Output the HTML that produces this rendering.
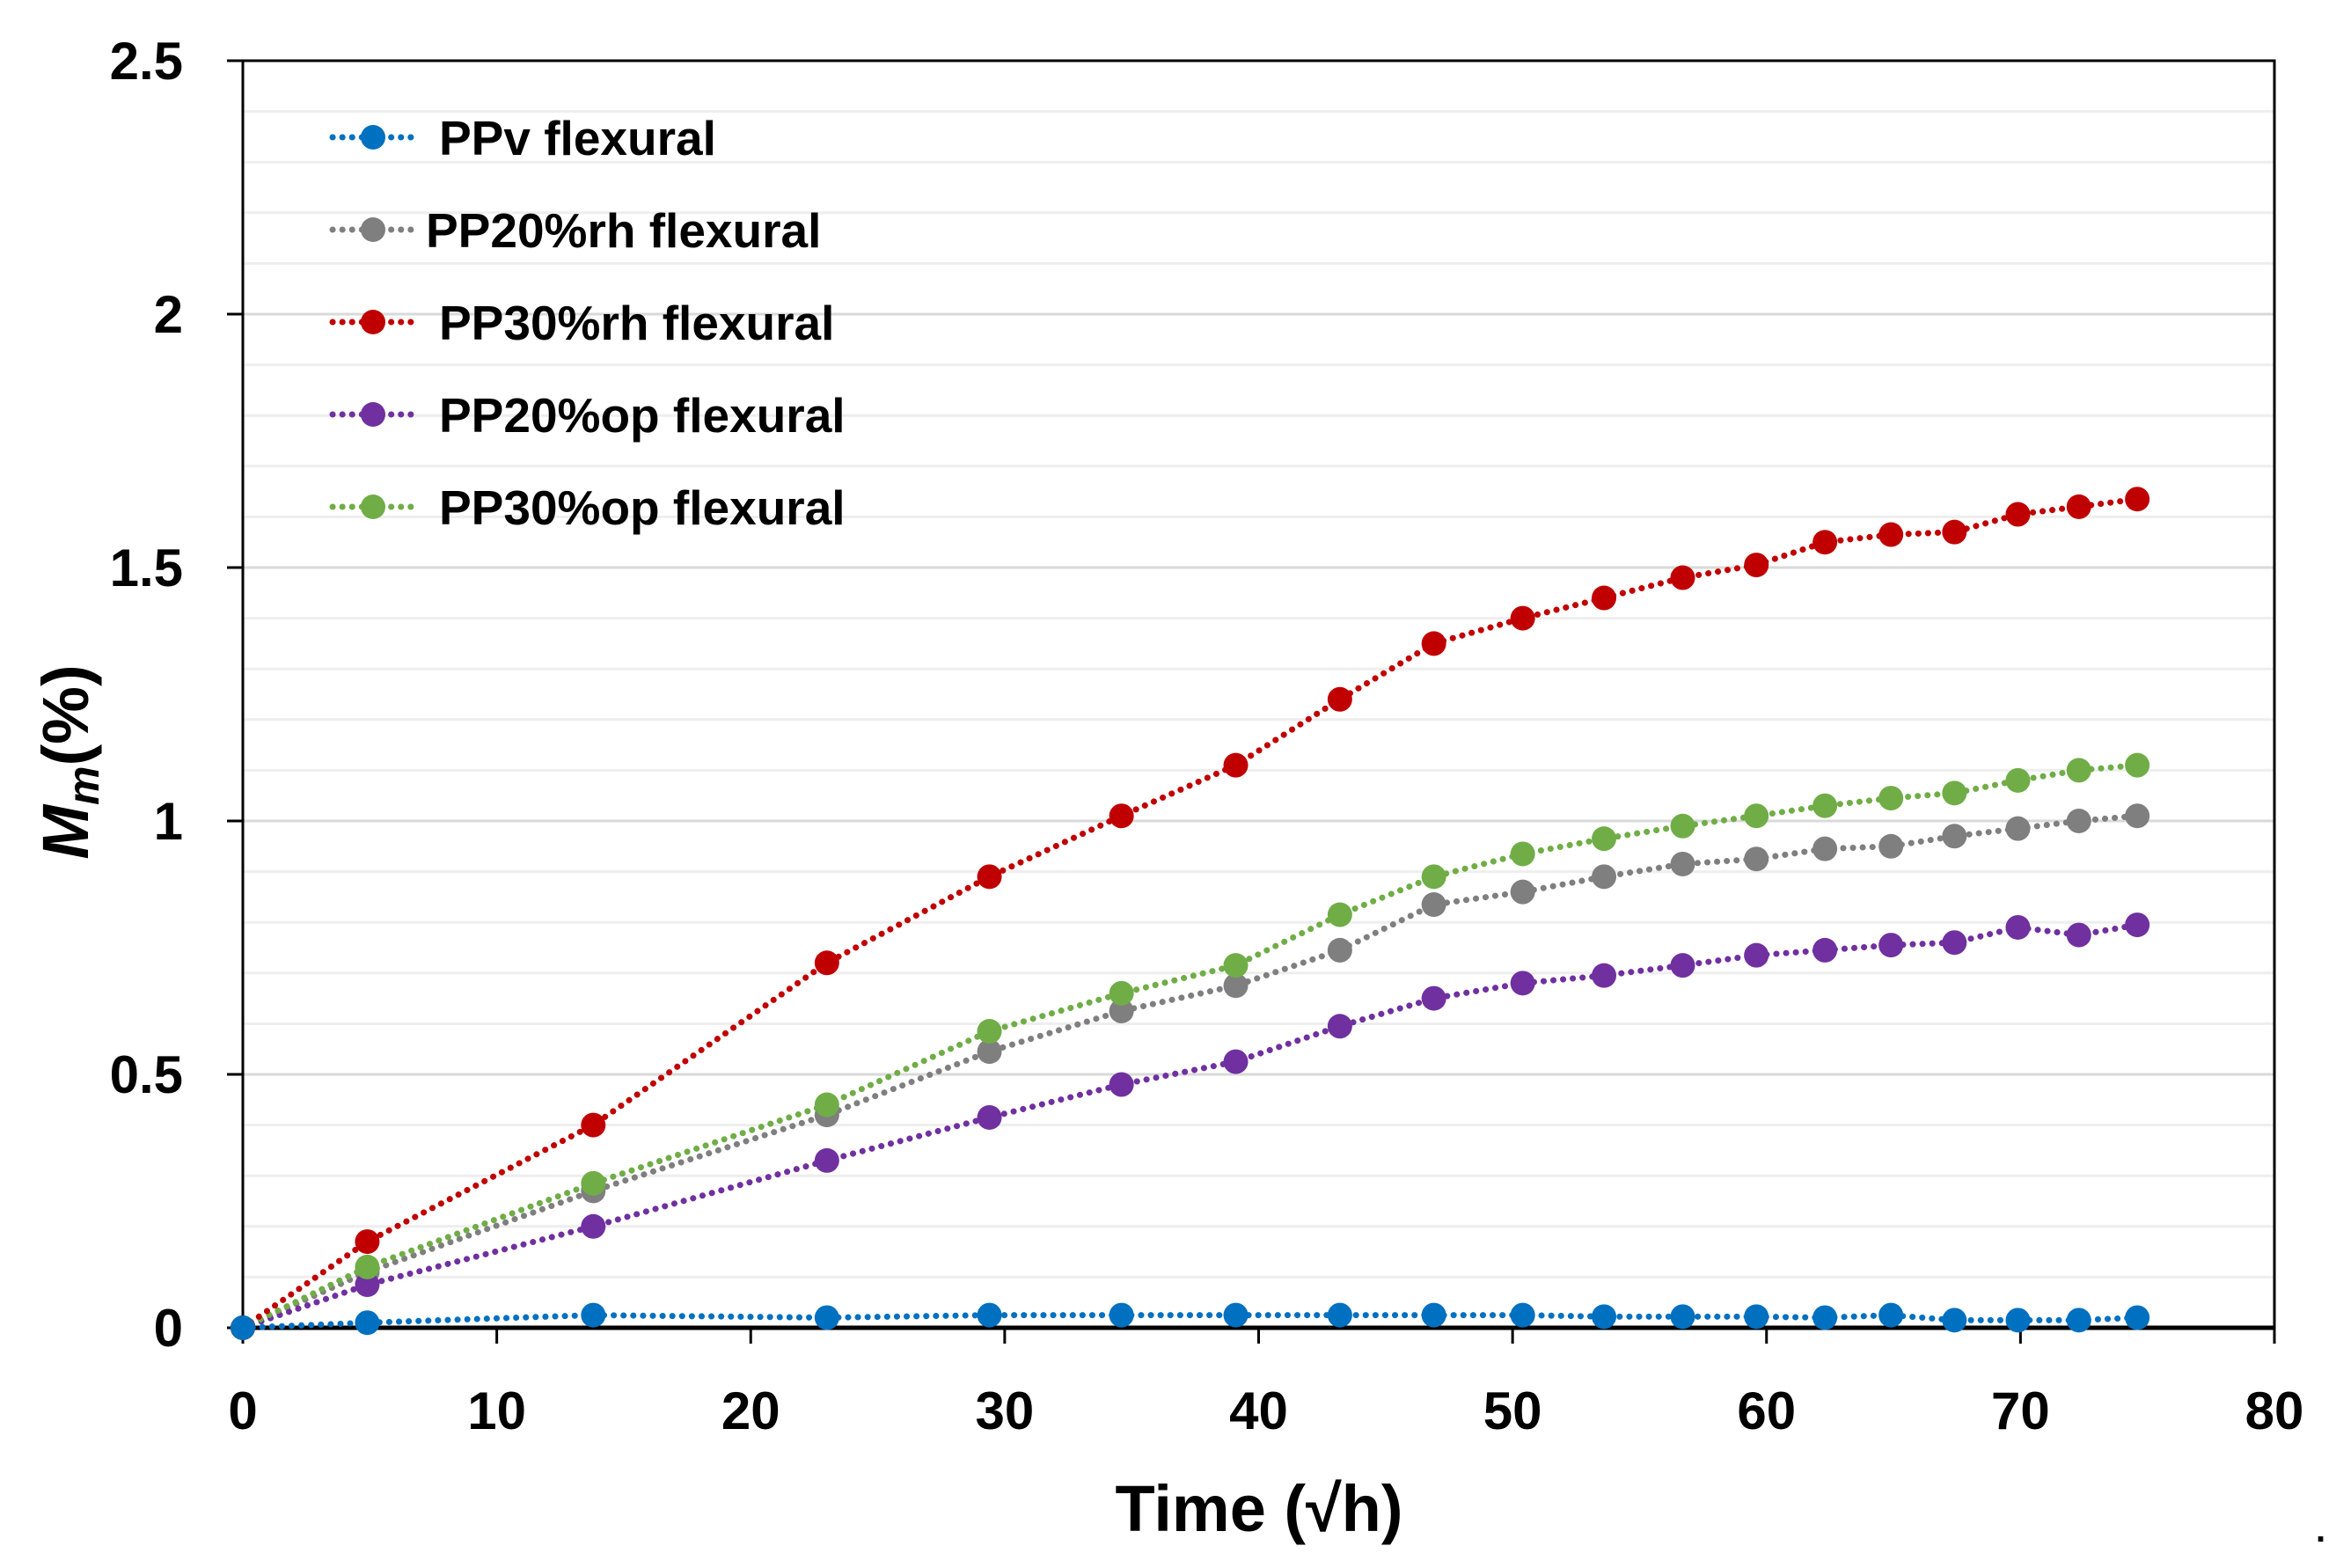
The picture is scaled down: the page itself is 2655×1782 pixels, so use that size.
<!DOCTYPE html>
<html><head><meta charset="utf-8"><style>
html,body{margin:0;padding:0;background:#fff;}
svg text{font-family:"Liberation Sans",sans-serif;font-weight:bold;fill:#000;}
</style></head><body>
<svg id="chart" width="2655" height="1777" viewBox="0 0 2655 1777" xmlns="http://www.w3.org/2000/svg">
<g id="grid"></g>
<g id="axes"></g>
<g id="series"></g>
<g id="legend"></g>
<text x="1431" y="1740" font-size="74" text-anchor="middle">Time (√h)</text>
<text transform="translate(100,866) rotate(-90)" font-size="74" text-anchor="middle"><tspan font-style="italic">M</tspan><tspan font-style="italic" font-size="50" dy="12">m</tspan><tspan dy="-12">(%)</tspan></text>
<text x="2632" y="1752" font-size="40">.</text>
</svg>
<script>
const xValues=[0,4.9,13.8,23,29.4,34.6,39.1,43.2,46.9,50.4,53.6,56.7,59.6,62.3,64.9,67.4,69.9,72.3,74.6];
const seriesNames=["PPv flexural","PP20%rh flexural","PP30%rh flexural","PP20%op flexural","PP30%op flexural"];
const seriesColors=["#0070C0","#7F7F7F","#C00000","#7030A0","#70AD47"];
const ppv=[0,0.01,0.025,0.02,0.025,0.025,0.025,0.025,0.025,0.025,0.022,0.022,0.022,0.02,0.025,0.015,0.015,0.015,0.02];
const pp20rh=[0,0.11,0.27,0.42,0.545,0.625,0.675,0.745,0.835,0.86,0.89,0.915,0.925,0.945,0.95,0.97,0.985,1.0,1.01];
const pp30rh=[0,0.17,0.40,0.72,0.89,1.01,1.11,1.24,1.35,1.40,1.44,1.48,1.505,1.55,1.565,1.57,1.605,1.62,1.635];
const pp20op=[0,0.085,0.20,0.33,0.415,0.48,0.525,0.595,0.65,0.68,0.695,0.715,0.735,0.745,0.755,0.76,0.79,0.775,0.795];
const pp30op=[0,0.12,0.285,0.44,0.585,0.66,0.715,0.815,0.89,0.935,0.965,0.99,1.01,1.03,1.045,1.055,1.08,1.10,1.11];
const xTicks=[0,10,20,30,40,50,60,70,80];
const yTicks=[0,0.5,1,1.5,2,2.5];
const yTickLabels=["0","0.5","1","1.5","2","2.5"];

const NS="http://www.w3.org/2000/svg";
const L=276,R=2585,T=69,B=1509;
function sx(v){return L+(v-0)/(80-0)*(R-L);}
function sy(v){return B-(v-0)/(2.5-0)*(B-T);}
function mk(tag,attrs,parent){const e=document.createElementNS(NS,tag);for(const k in attrs)e.setAttribute(k,attrs[k]);parent.appendChild(e);return e;}
const grid=document.getElementById('grid'),axes=document.getElementById('axes'),ser=document.getElementById('series'),leg=document.getElementById('legend');
for(let i=1;i<25;i++){
  const y=sy(i/10);
  const g=mk('line',{x1:L,x2:R,y1:y,y2:y,stroke:(i%5===0)?'#d9d9d9':'#eeeeee','stroke-width':3},grid);
  
  
}
const frame=mk('rect',{x:L,y:T,width:R-L,height:B-T,fill:'none',stroke:'#000','stroke-width':3},axes);


const xAxis=mk('line',{x1:L,x2:R,y1:B,y2:B,stroke:'#000','stroke-width':5},axes);


xTicks.forEach(t=>{
  const x=sx(t);
  const tk=mk('line',{x1:x,x2:x,y1:B,y2:B+18,stroke:'#000','stroke-width':3},axes);
  
  
  const lb=mk('text',{x:x,y:B+115,'font-size':60,'text-anchor':'middle'},axes);
  lb.textContent=t;
  
  
});
yTicks.forEach((t,i)=>{
  const y=sy(t);
  const tk=mk('line',{x1:L-18,x2:L,y1:y,y2:y,stroke:'#000','stroke-width':3},axes);
  
  
  const lb=mk('text',{x:208,y:y+21,'font-size':60,'text-anchor':'end'},axes);
  lb.textContent=yTickLabels[i];
  
  
});
const allSeries=[ppv,pp20rh,pp30rh,pp20op,pp30op];
const drawOrder=[1,3,4,2,0];
drawOrder.forEach(si=>{
  const vals=allSeries[si],c=seriesColors[si];
  const g=mk('g',{},ser);
  
  
  const pts=vals.map((v,i)=>sx(xValues[i])+','+sy(v)).join(' ');
  const pl=mk('polyline',{points:pts,fill:'none',stroke:c,'stroke-width':7,'stroke-dasharray':'0.1 11','stroke-linecap':'round'},g);
  
  
  vals.forEach((v,i)=>{
    const p=mk('circle',{cx:sx(xValues[i]),cy:sy(v),r:14,fill:c},g);
    
    
  });
});
const legY=[156,261,366,471,576];
seriesNames.forEach((n,i)=>{
  const g=mk('g',{},leg);
  
  
  const ln=mk('line',{x1:378,x2:470,y1:legY[i],y2:legY[i],stroke:seriesColors[i],'stroke-width':7,'stroke-dasharray':'0.1 11','stroke-linecap':'round'},g);
  
  
  const c=mk('circle',{cx:424,cy:legY[i],r:14,fill:seriesColors[i]},g);
  
  
  const t=mk('text',{x:(i===1?484:499),y:legY[i]+20,'font-size':55},g);
  t.textContent=n;
  
  
});
</script>
</body></html>
